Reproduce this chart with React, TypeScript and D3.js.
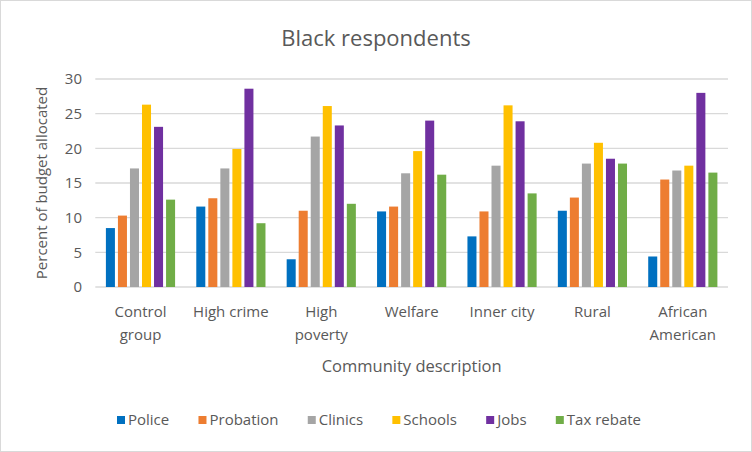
import React, { useEffect, useRef } from "react";
import * as d3 from "d3";

const categories = ["Control group", "High crime", "High poverty", "Welfare", "Inner city", "Rural", "African American"];
const categoryLines = [["Control", "group"], ["High crime"], ["High", "poverty"], ["Welfare"], ["Inner city"], ["Rural"], ["African", "American"]];
const seriesNames = ["Police", "Probation", "Clinics", "Schools", "Jobs", "Tax rebate"];
const police = [8.5, 11.6, 4.0, 10.9, 7.3, 11.0, 4.4];
const probation = [10.3, 12.8, 11.0, 11.6, 10.9, 12.9, 15.5];
const clinics = [17.1, 17.1, 21.7, 16.4, 17.5, 17.8, 16.8];
const schools = [26.3, 19.9, 26.1, 19.6, 26.2, 20.8, 17.5];
const jobs = [23.1, 28.6, 23.3, 24.0, 23.9, 18.5, 28.0];
const taxRebate = [12.6, 9.2, 12.0, 16.2, 13.5, 17.8, 16.5];
const yTicks = [0, 5, 10, 15, 20, 25, 30];
const colors = ["#0070C0", "#ED7D31", "#A5A5A5", "#FFC000", "#7030A0", "#70AD47"];

const seriesValues = [police, probation, clinics, schools, jobs, taxRebate];

const W = 752, H = 452;
const FONT = "'Open Sans', 'Noto Sans', sans-serif";
const TXT = "#595959";

export default function App() {
  const legendRef = useRef<SVGGElement>(null);
  const left = 95.3, right = 728, top = 79, bottom = 287;
  const x0 = d3.scaleBand<string>().domain(categories).range([left, right]).paddingInner(0).paddingOuter(0);
  const x1 = d3.scaleBand<string>().domain(seriesNames).range([10.6, x0.bandwidth() - 10.6]).paddingInner(0.25).paddingOuter(0);
  const y = d3.scaleLinear().domain([0, 30]).range([bottom, top]);

  useEffect(() => {
    const g = d3.select(legendRef.current);
    g.selectAll("*").remove();
    const items = seriesNames.map((name, i) => {
      const item = g.append("g");
      item.append("rect").attr("x", 0).attr("y", -4).attr("width", 8).attr("height", 8).attr("fill", colors[i]);
      const t = item.append("text").attr("x", 11).attr("y", 0).attr("dy", "0.35em")
        .attr("font-family", FONT).attr("font-size", 15).attr("fill", TXT).text(name);
      const w = (t.node() as SVGTextElement).getComputedTextLength();
      return { item, w: 11 + w };
    });
    const startX = 117, endX = 641;
    const sum = d3.sum(items, (d) => d.w);
    const gap = (endX - startX - sum) / (items.length - 1);
    let cx = startX;
    items.forEach((d) => {
      d.item.attr("transform", `translate(${cx},0)`);
      cx += d.w + gap;
    });
    g.attr("transform", `translate(0,420)`);
  }, []);

  return (
    <svg width={W} height={H} style={{ position: "absolute", left: 0, top: 0 }}>
      <rect x={0.5} y={0.5} width={W - 1} height={H - 1} fill="#fff" stroke="#d9d9d9" />
      <text x={W / 2} y={46} textAnchor="middle" fontFamily={FONT} fontSize={22} fill={TXT}>Black respondents</text>
      {yTicks.map((t) => (
        <g key={t}>
          <line x1={left} x2={right} y1={y(t)} y2={y(t)} stroke="#d9d9d9" strokeWidth={1.3} />
          <text x={82} y={y(t)} dy="0.35em" textAnchor="end" fontFamily={FONT} fontSize={15} fill={TXT}>{t}</text>
        </g>
      ))}
      {categories.map((c, ci) => (
        <g key={c} transform={`translate(${x0(c)},0)`}>
          {seriesNames.map((s, si) => (
            <rect key={s} x={x1(s)} width={x1.bandwidth()} y={y(seriesValues[si][ci])}
              height={y(0) - y(seriesValues[si][ci])} fill={colors[si]} />
          ))}
          {categoryLines[ci].map((ln, li) => (
            <text key={li} x={x0.bandwidth() / 2} y={312 + li * 23} dy="0.35em" textAnchor="middle"
              fontFamily={FONT} fontSize={15} fill={TXT}>{ln}</text>
          ))}
        </g>
      ))}
      <text x={(left + right) / 2} y={366} dy="0.35em" textAnchor="middle" fontFamily={FONT} fontSize={16.5} fill={TXT}>Community description</text>
      <text transform={`translate(42,${(top + bottom) / 2}) rotate(-90)`} dy="0.35em" textAnchor="middle"
        fontFamily={FONT} fontSize={15} fill={TXT}>Percent of budget allocated</text>
      <g ref={legendRef} />
    </svg>
  );
}
